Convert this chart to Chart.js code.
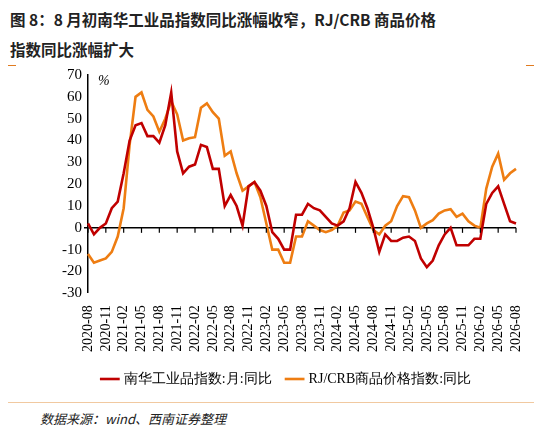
<!DOCTYPE html>
<html><head><meta charset="utf-8">
<script src="https://cdn.jsdelivr.net/npm/chart.js@4"></script>
<style>
body{margin:0;width:542px;height:436px;background:#fff;font-family:"Noto Sans CJK SC";position:relative;overflow:hidden}
#t{position:absolute;left:10px;top:4px;font-size:15.5px;font-weight:bold;line-height:30px;color:#222}
.rule{position:absolute;left:0;width:542px;height:1px;background:#e07b20}
#wrap{position:absolute;left:0;top:64px;width:542px;height:332px}
#src{position:absolute;left:40px;top:409px;font-size:13px;font-style:italic;color:#222}
</style></head><body>
<div id="t">图 8：8 月初南华工业品指数同比涨幅收窄，RJ/CRB 商品价格<br>指数同比涨幅扩大</div>
<div class="rule" style="top:65px;left:8px;width:8px"></div>
<div class="rule" style="top:65px;left:526px;width:8px"></div>
<div class="rule" style="top:402px;left:8px;width:526px;background:#f1c9a0"></div>
<div id="wrap"><canvas id="c"></canvas></div>
<div id="src">数据来源：wind、西南证券整理</div>
<script>
const start=[2020,8];
const labels=[];
for(let i=0;i<73;i++){const m=start[1]-1+i;const y=start[0]+Math.floor(m/12);const mm=m%12+1;labels.push(y+'-'+String(mm).padStart(2,'0'));}
const nanhua=[2,-3,0,2,9,12,25,40,47,48,42,42,39,47,62,35,25,28,29,38,37,27,27,10,15,10,1,19,21,17,10,-2,-5,-10,-10,6,6,11,9,8,5,2,1,3,9,21,16,9,0,-11,-3,-6,-6,-4.5,-4,-6,-14,-18,-15,-8,-3,0,-8,-8,-8,-5,-5,11,16,19,11,3,2];
const crb=[-12,-16,-15,-14,-11,-4,9,38,60,62,54,51,44,50,58,52,40,41,41.5,55,57,53,50,33,35,25,17,19,21,14,2,-10,-10,-16,-16,-4,-4,3,1,-1,-2,-1,1,7,8,12,11,5,-1,-3,1,3,10,14.5,14,8,0,2,3.5,6.5,8,8.5,5,6.5,3,1,0,18,28,34,22,25,27];
const yTicks=[70,60,50,40,30,20,10,0,-10,-20,-30];
const ser='Liberation Serif, DejaVu Serif, serif';
new Chart(document.getElementById('c'),{type:'line',
data:{labels,datasets:[
{label:'南华工业品指数:月:同比',data:nanhua,borderColor:'#c00000',borderWidth:2.6,pointRadius:0,tension:0},
{label:'RJ/CRB商品价格指数:同比',data:crb,borderColor:'#ee7d12',borderWidth:2.6,pointRadius:0,tension:0}]},
options:{animation:false,responsive:true,maintainAspectRatio:false,
layout:{padding:{left:58,right:26,top:11,bottom:0}},
plugins:{legend:{position:'bottom',labels:{usePointStyle:true,pointStyle:'line',boxWidth:40,color:'#000',font:{size:14,family:ser},padding:16},
 },tooltip:{enabled:false}},
scales:{
x:{grid:{display:false},border:{display:false},ticks:{autoSkip:false,maxRotation:90,minRotation:90,color:'#000',font:{size:14,family:ser},padding:4,
 callback:(v,i)=>i%3===0?labels[i]:''}},
y:{min:-30,max:70,afterBuildTicks:a=>{a.ticks=yTicks.map(v=>({value:v}))},
 afterFit:a=>{a.width=30},
 border:{color:'#000',width:1.5},
 grid:{drawOnChartArea:true,color:c=>c.tick&&c.tick.value===0?'#000':'rgba(0,0,0,0)',lineWidth:c=>c.tick&&c.tick.value===0?1.5:0,tickColor:'#000',tickLength:4},
 ticks:{color:'#000',font:{size:15,family:ser},padding:2}}}},
plugins:[{id:'pct',afterDraw(ch){const g=ch.ctx,a=ch.chartArea;g.save();g.font='italic 14px '+ser;g.fillStyle='#000';g.fillText('%',a.left+10,a.top+6);
 const y0=ch.scales.y.getPixelForValue(0);g.strokeStyle='#000';g.lineWidth=1.2;
 for(let i=0;i<labels.length;i+=3){const x=ch.scales.x.getPixelForValue(i);g.beginPath();g.moveTo(x,y0);g.lineTo(x,y0+5);g.stroke();}
 g.restore();}}]
});
</script></body></html>
